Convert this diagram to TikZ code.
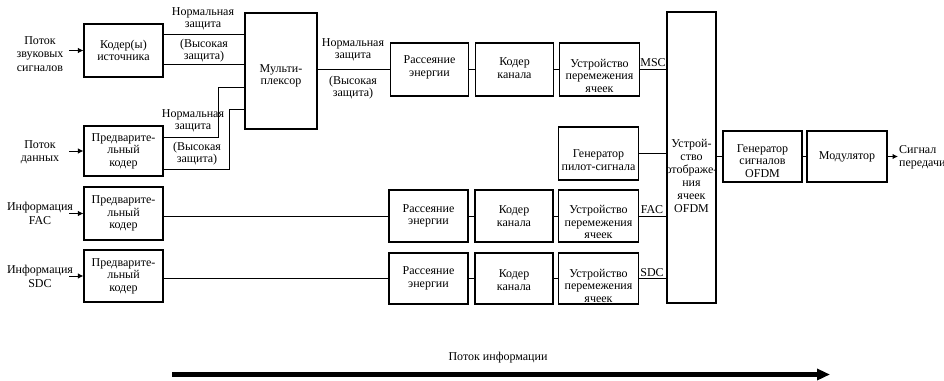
\documentclass[tikz,border=0pt]{standalone}
\usepackage{fontspec}
\setmainfont{Liberation Serif}
\usetikzlibrary{arrows.meta}
\begin{document}
\begin{tikzpicture}[x=1pt,y=-1pt,
  box/.style={draw,line width=1.1pt,inner sep=0pt},
  txt/.style={align=center,inner sep=0pt,font=\rmfamily\fontsize{12}{12.5}\selectfont},
  lbl/.style={align=center,inner sep=0pt,font=\rmfamily\fontsize{12}{12}\selectfont},
  conn/.style={line width=1pt},
  inarr/.style={line width=1pt,-{Latex[length=5.5pt,width=5.5pt]}}]
\useasboundingbox (0,0) rectangle (944,380);
% ---- boxes
\node[box,minimum width=79,minimum height=53] (src) at (123.5,50.5) {};
\node[txt] (srct) at (src.center) {Кодер(ы)\\источника};
\node[box,minimum width=79,minimum height=50] (pre1) at (123.5,151) {};
\node[txt] (pre1t) at (pre1.center) {Предварите-\\льный\\кодер};
\node[box,minimum width=79,minimum height=53] (pre2) at (123.5,213.5) {};
\node[txt] (pre2t) at (pre2.center) {Предварите-\\льный\\кодер};
\node[box,minimum width=79,minimum height=52] (pre3) at (123.5,276) {};
\node[txt] (pre3t) at (pre3.center) {Предварите-\\льный\\кодер};
\node[box,minimum width=72,minimum height=116] (mux) at (281,71) {};
\node[txt,yshift=-5pt] (muxt) at (mux.center) {Мульти-\\плексор};
% MSC row
\node[box,minimum width=78,minimum height=53] (e1) at (429.5,69.5) {};
\node[txt,yshift=2pt] (e1t) at (e1.center) {Рассеяние\\энергии};
\node[box,minimum width=78,minimum height=53] (c1) at (514.5,69.5) {};
\node[txt,yshift=1.5pt] (c1t) at (c1.center) {Кодер\\канала};
\node[box,minimum width=80,minimum height=53] (i1) at (599.5,69.5) {};
\node[txt,yshift=-6pt] (i1t) at (i1.center) {Устройство\\перемежения\\ячеек};
% pilot
\node[box,minimum width=80,minimum height=53] (pil) at (598.5,153.5) {};
\node[txt,yshift=-6.5pt] (pilt) at (pil.center) {Генератор\\пилот-сигнала};
% FAC row
\node[box,minimum width=79,minimum height=52] (e2) at (428.5,216) {};
\node[txt] (e2t) at (e2.center) {Рассеяние\\энергии};
\node[box,minimum width=78,minimum height=52] (c2) at (514,216) {};
\node[txt] (c2t) at (c2.center) {Кодер\\канала};
\node[box,minimum width=80,minimum height=52] (i2) at (598.5,216) {};
\node[txt,yshift=-6pt] (i2t) at (i2.center) {Устройство\\перемежения\\ячеек};
% SDC row
\node[box,minimum width=79,minimum height=51] (e3) at (428.5,278.5) {};
\node[txt] (e3t) at (e3.center) {Рассеяние\\энергии};
\node[box,minimum width=78,minimum height=51] (c3) at (514,278.5) {};
\node[txt,yshift=-1.5pt] (c3t) at (c3.center) {Кодер\\канала};
\node[box,minimum width=80,minimum height=51] (i3) at (598.5,278.5) {};
\node[txt,yshift=-7pt] (i3t) at (i3.center) {Устройство\\перемежения\\ячеек};
% mapper
\node[box,minimum width=49,minimum height=291] (map) at (691.5,157.5) {};
\node[txt,yshift=-18pt,font=\rmfamily\fontsize{12}{13}\selectfont] (mapt) at (map.center) {Устрой-\\ство\\отображе-\\ния\\ячеек\\OFDM};
% OFDM gen & modulator
\node[box,minimum width=79,minimum height=51] (gen) at (762.5,156.5) {};
\node[txt,yshift=-4.5pt] (gent) at (gen.center) {Генератор\\сигналов\\OFDM};
\node[box,minimum width=80,minimum height=51] (mod) at (847,156.5) {};
\node[txt] (modt) at (mod.center) {Модулятор};
% ---- input labels
\node[txt,font=\rmfamily\fontsize{12}{13.5}\selectfont] (in1) at (40,54) {Поток\\звуковых\\сигналов};
\node[txt] (in2) at (40,152) {Поток\\данных};
\node[txt,font=\rmfamily\fontsize{12}{14}\selectfont] (in3) at (40,213) {Информация\\FAC};
\node[txt,font=\rmfamily\fontsize{12}{14}\selectfont] (in4) at (40,276) {Информация\\SDC};
\coordinate (a1) at (69,50.5);
\coordinate (a2) at (69,151);
\coordinate (a3) at (69,213.5);
\coordinate (a4) at (69,276);
\draw[inarr] (a1) -- (src.west);
\draw[inarr] (a2) -- (pre1.west);
\draw[inarr] (a3) -- (pre2.west);
\draw[inarr] (a4) -- (pre3.west);
% ---- source coder to mux
\draw[conn] (src.east |- 0,34) -- (mux.west |- 0,34);
\draw[conn] (src.east |- 0,64) -- (mux.west |- 0,64);
\node[lbl] (l1) at (203,18.5) {Нормальная\\защита};
\node[lbl] (l2) at (204,50.5) {(Высокая\\защита)};
% ---- data pre-coder to mux
\coordinate (b1) at (218,87);
\coordinate (b2) at (229,109);
\draw[conn] (pre1.east |- 0,137) -| (b1) -- (mux.west |- b1);
\draw[conn] (pre1.east |- 0,169) -| (b2) -- (mux.west |- b2);
\node[lbl] (l3) at (193,120.5) {Нормальная\\защита};
\node[lbl] (l4) at (197,154) {(Высокая\\защита)};
% ---- mux to MSC chain
\draw[conn] (mux.east |- e1.west) -- (e1.west);
\node[lbl] (l5) at (353,50) {Нормальная\\защита};
\node[lbl] (l6) at (353,87.5) {(Высокая\\защита)};
\draw[conn] (e1) -- (c1);
\draw[conn] (c1) -- (i1);
\draw[conn] (i1.east) -- (map.west |- i1.east);
\node[lbl,anchor=south] (msc) at (653,67) {MSC};
% pilot
\draw[conn] (pil.east) -- (map.west |- pil.east);
% FAC chain
\draw[conn] (pre2.east |- e2.west) -- (e2.west);
\draw[conn] (e2) -- (c2);
\draw[conn] (c2) -- (i2);
\draw[conn] (i2.east) -- (map.west |- i2.east);
\node[lbl,anchor=south] (fac) at (652,214) {FAC};
% SDC chain
\draw[conn] (pre3.east |- e3.west) -- (e3.west);
\draw[conn] (e3) -- (c3);
\draw[conn] (c3) -- (i3);
\draw[conn] (i3.east) -- (map.west |- i3.east);
\node[lbl,anchor=south] (sdc) at (652,277) {SDC};
% output
\draw[conn] (map.east |- gen.west) -- (gen.west);
\draw[conn] (gen) -- (mod);
\coordinate (outp) at (898,156.5);
\draw[inarr] (mod.east) -- (outp);
\node[txt,anchor=west,align=left] (outl) at (899,157.5) {Сигнал\\передачи};
% ---- information flow
\node[lbl] (flow) at (498,358) {Поток информации};
\coordinate (fa) at (172,374.5);
\coordinate (fb) at (830,374.5);
\draw[line width=4.5pt,-{Triangle[length=13pt,width=11pt]}] (fa) -- (fb);
\end{tikzpicture}
\end{document}
